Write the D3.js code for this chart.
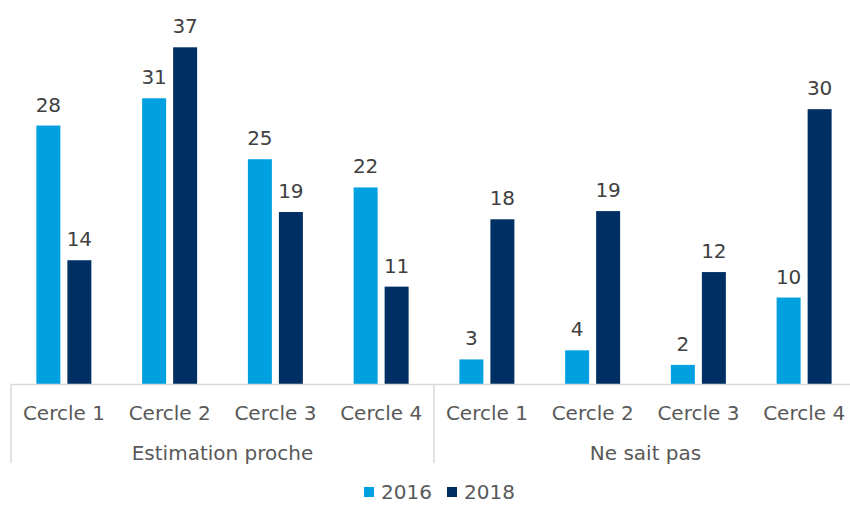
<!doctype html>
<html lang="fr">
  <head>
    <meta charset="UTF-8" />
    <title>Cercles – Estimation proche / Ne sait pas</title>
    <script src="https://d3js.org/d3.v7.min.js"></script>
    <style>
      body {
        margin: 0;
        padding: 0;
        background: #ffffff;
        font-family: 'DejaVu Sans', Verdana, sans-serif;
      }
      svg text {
        font-family: 'DejaVu Sans', Verdana, sans-serif;
      }
    </style>
  </head>
  <body>
    <div id="chart"></div>
    <script>
      // Data
      const groups = ['Estimation proche', 'Ne sait pas']
      const cercles = ['Cercle 1', 'Cercle 2', 'Cercle 3', 'Cercle 4']
      const series = ['2016', '2018']
      const colors = ['#00A0E1', '#003063']
      const values2016 = [28.4, 31.4, 24.7, 21.6, 2.7, 3.7, 2.1, 9.5]
      const values2018 = [13.6, 37.0, 18.9, 10.7, 18.1, 19.0, 12.3, 30.2]

      const width = 850
      const height = 505
      const baseY = 384
      const fontSize = '20px'

      const categories = []
      groups.forEach((g) => cercles.forEach((c) => categories.push(g + '|' + c)))

      const rows = categories.map((k, i) => ({
        key: k,
        group: k.split('|')[0],
        label: k.split('|')[1],
        vals: [values2016[i], values2018[i]],
      }))

      const svg = d3
        .select('#chart')
        .append('svg')
        .attr('width', width)
        .attr('height', height)

      // Scales
      const x0 = d3.scaleBand().domain(categories).range([11, 857]).padding(0)
      const groupW = 55
      const x1 = d3
        .scaleBand()
        .domain(series)
        .range([(x0.bandwidth() - groupW) / 2, (x0.bandwidth() + groupW) / 2])
        .paddingInner(0.226)
      const y = d3.scaleLinear().domain([0, 40]).range([baseY, 20])

      // Bars
      const cat = svg
        .selectAll('.cat')
        .data(rows)
        .enter()
        .append('g')
        .attr('class', 'cat')
        .attr('transform', (d) => `translate(${x0(d.key)},0)`)

      series.forEach((s, si) => {
        cat
          .append('rect')
          .attr('x', x1(s))
          .attr('y', (d) => y(d.vals[si]))
          .attr('width', x1.bandwidth())
          .attr('height', (d) => baseY - y(d.vals[si]))
          .attr('fill', colors[si])

        cat
          .append('text')
          .attr('x', x1(s) + x1.bandwidth() / 2)
          .attr('y', (d) => y(d.vals[si]) - 14)
          .attr('text-anchor', 'middle')
          .attr('font-size', fontSize)
          .attr('fill', '#404040')
          .text((d) => Math.round(d.vals[si]))
      })

      // X axis (two levels)
      const axis = svg.append('g').attr('transform', `translate(0,${baseY})`)
      axis
        .call(d3.axisBottom(x0).tickSize(0).tickFormat((d) => d.split('|')[1]))
        .call((g) => g.select('.domain').attr('stroke', '#d9d9d9').attr('stroke-width', 1.5))
        .call((g) =>
          g
            .selectAll('.tick text')
            .attr('y', 36)
            .attr('dy', 0)
            .attr('font-size', fontSize)
            .attr('fill', '#595959')
        )

      const groupX = d3.scaleBand().domain(groups).range([11, 857])
      const outer = svg.append('g').attr('transform', `translate(0,${baseY})`)
      outer
        .call(d3.axisBottom(groupX).tickSize(0).tickSizeOuter(0))
        .call((g) => g.select('.domain').remove())
        .call((g) =>
          g
            .selectAll('.tick text')
            .attr('y', 76)
            .attr('dy', 0)
            .attr('font-size', fontSize)
            .attr('fill', '#595959')
        )

      // separator ticks
      const sep = [11].concat(groups.map((g) => groupX(g) + groupX.bandwidth()))
      svg
        .selectAll('.sep')
        .data(sep)
        .enter()
        .append('line')
        .attr('x1', (d) => d)
        .attr('x2', (d) => d)
        .attr('y1', baseY)
        .attr('y2', baseY + 79)
        .attr('stroke', '#d9d9d9')
        .attr('stroke-width', 1.5)

      // Legend
      const legendX = [364, 447]
      const legend = svg
        .selectAll('.legend')
        .data(series)
        .enter()
        .append('g')
        .attr('transform', (d, i) => `translate(${legendX[i]},487)`)
      legend
        .append('rect')
        .attr('width', 10)
        .attr('height', 10)
        .attr('fill', (d, i) => colors[i])
      legend
        .append('text')
        .attr('x', 17)
        .attr('y', 12)
        .attr('font-size', fontSize)
        .attr('fill', '#595959')
        .text((d) => d)
    </script>
  </body>
</html>
